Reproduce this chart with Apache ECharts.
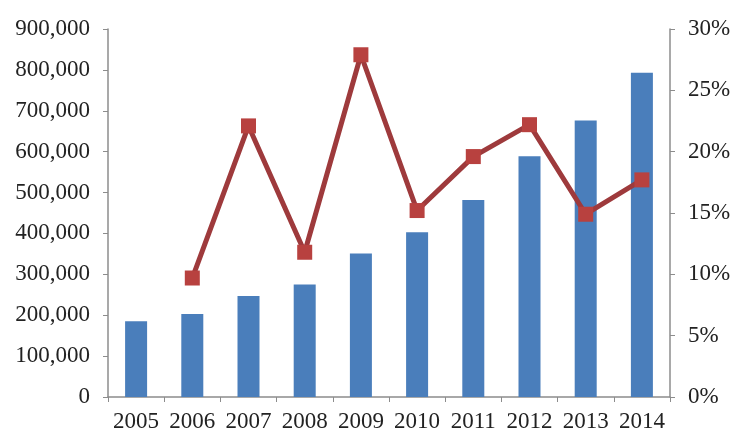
<!DOCTYPE html>
<html>
<head>
<meta charset="utf-8">
<script src="https://cdn.jsdelivr.net/npm/echarts@6/dist/echarts.min.js"></script>
<style>
  html, body { margin: 0; padding: 0; background: #ffffff; }
  #chart { width: 738px; height: 435px; }
</style>
</head>
<body>
<div id="chart"></div>
<script>
// Years on the category axis
const years = ['2005', '2006', '2007', '2008', '2009', '2010', '2011', '2012', '2013', '2014'];
// Annual totals (left axis)
const totals = [185000, 203000, 247000, 275000, 351000, 403000, 482000, 589000, 676000, 793000];
// Year-over-year growth rate in percent (right axis); no value for the first year
const growth = [null, 9.7, 22.1, 11.8, 27.9, 15.2, 19.6, 22.2, 14.9, 17.7];

const font = '"Liberation Serif", "Times New Roman", serif';
const axisGray = '#8c8c8c';
const textColor = '#222222';

const chart = echarts.init(document.getElementById('chart'), null, { renderer: 'canvas' });

chart.setOption({
  animation: false,
  backgroundColor: '#ffffff',
  grid: { left: 108, right: 68, top: 29, bottom: 38, containLabel: false },
  xAxis: {
    type: 'category',
    data: years,
    axisLine: { show: true, lineStyle: { color: axisGray, width: 1.5 } },
    axisTick: { show: true, alignWithLabel: false, length: 5, lineStyle: { color: axisGray } },
    axisLabel: { interval: 0, color: textColor, fontFamily: font, fontSize: 23, margin: 13 }
  },
  yAxis: [
    {
      type: 'value',
      min: 0,
      max: 900000,
      interval: 100000,
      position: 'left',
      splitLine: { show: false },
      axisLine: { show: true, lineStyle: { color: axisGray, width: 1.5 } },
      axisTick: { show: true, length: 5, lineStyle: { color: axisGray } },
      axisLabel: {
        color: textColor, fontFamily: font, fontSize: 23, margin: 18,
        formatter: v => v.toLocaleString('en-US')
      }
    },
    {
      type: 'value',
      min: 0,
      max: 30,
      interval: 5,
      position: 'right',
      splitLine: { show: false },
      axisLine: { show: true, lineStyle: { color: axisGray, width: 1.5 } },
      axisTick: { show: true, length: 5, lineStyle: { color: axisGray } },
      axisLabel: {
        color: textColor, fontFamily: font, fontSize: 23, margin: 18,
        formatter: v => v + '%'
      }
    }
  ],
  series: [
    {
      type: 'bar',
      data: totals,
      yAxisIndex: 0,
      barWidth: 22,
      itemStyle: { color: '#4a7ebb' }
    },
    {
      type: 'line',
      data: growth,
      yAxisIndex: 1,
      symbol: 'rect',
      symbolSize: 15,
      lineStyle: { color: '#9e3a3c', width: 5 },
      itemStyle: { color: '#b8413f' },
      z: 3
    }
  ]
});
</script>
</body>
</html>
